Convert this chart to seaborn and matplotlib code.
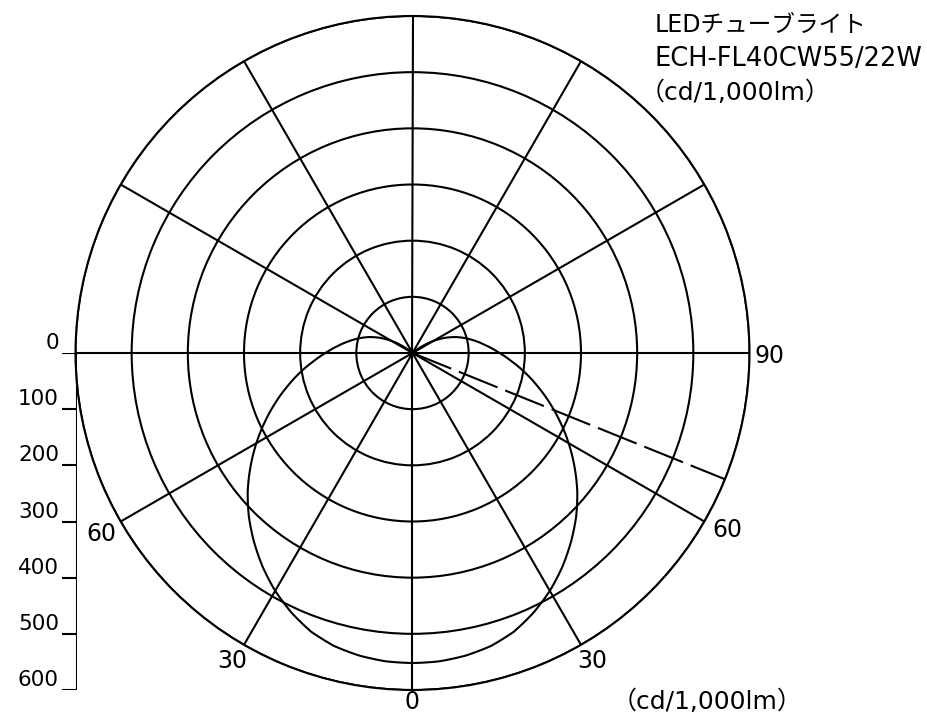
import numpy as np
import matplotlib
matplotlib.use("Agg")
import matplotlib.pyplot as plt
import seaborn as sns

# light distribution, angle from nadir (deg) -> cd/1000lm (symmetric)
half_angles = [0, 5, 10, 15, 20, 25, 30, 35, 40, 45, 50, 55, 60, 65,
               70, 75, 80, 85, 90, 95, 100, 105, 110, 115, 120, 125, 130]
half_cd = [552, 551, 547, 540, 528, 510, 489, 465, 439, 412, 383, 352, 321, 290,
           260, 231, 204, 178, 155, 135, 117, 100, 83, 64, 43, 21, 0]
angles = [-a for a in half_angles[::-1]] + half_angles[1:]
candela = half_cd[::-1] + half_cd[1:]

dash_angle = 68
dash_r = [0, 600]

rings = [100, 200, 300, 400, 500, 600]
spokes = list(range(0, 360, 30))
scale_ticks = [0, 100, 200, 300, 400, 500, 600]

angle_labels = ["0", "30", "30", "60", "60", "90"]
angle_pos = [0, 30.3, -30.3, 60.7, -59.8, 89.5]
angle_rad = [622, 635, 635, 643, 640, 635]

title_lines = ["LEDチューブライト", "ECH-FL40CW55/22W", "（cd/1,000lm）"]
unit_label = "（cd/1,000lm）"

sns.set_style("white")
plt.rcParams["font.family"] = ["DejaVu Sans", "Noto Sans CJK JP"]
plt.rcParams["text.color"] = "black"

fig = plt.figure(figsize=(9.28, 7.17), dpi=100)
W, H = 928, 717
cx, cy, R = 412.5, 353, 337

ax = fig.add_axes([(cx - R) / W, (H - cy - R) / H, 2 * R / W, 2 * R / H], projection="polar")
ax.set_theta_zero_location("S")
ax.set_ylim(0, 600)
ax.set_yticks(rings)
ax.set_yticklabels([])
ax.set_xticks(np.deg2rad(spokes))
ax.set_xticklabels([])
ax.tick_params(length=0)
ax.grid(True, color="black", linewidth=1.5)
ax.spines["polar"].set_color("black")
ax.spines["polar"].set_linewidth(1.5)

sns.lineplot(x=np.deg2rad(angles), y=candela, ax=ax, sort=False, estimator=None,
             color="black", linewidth=1.5)
# draw the curve as arcs between the measured points, like the polar grid
ax.lines[-1].get_path()._interpolation_steps = 20
sns.lineplot(x=np.deg2rad([dash_angle, dash_angle]), y=dash_r, ax=ax, sort=False,
             estimator=None, color="black", linewidth=1.5, linestyle=(0, (20, 4)))

for lab, a, r in zip(angle_labels, angle_pos, angle_rad):
    ax.text(np.deg2rad(a), r, lab, ha="center", va="center", fontsize=17, clip_on=False)

# scale bar on the left
ax2 = fig.add_axes([62 / W, (H - cy - R) / H, 15 / W, R / H])
ax2.set_xlim(0, 1)
ax2.set_ylim(600, 0)
ax2.axis("off")
ax2.vlines(1, 0, 600, color="black", linewidth=1.5)
ax2.hlines(scale_ticks, 0, 1, color="black", linewidth=1.5)
for t in scale_ticks:
    ax2.text(-0.2, t, str(t), ha="right", va="bottom", fontsize=15.5)

fig.text(655 / W, 1 - 25 / H, title_lines[0], ha="left", va="center", fontsize=17)
fig.text(655 / W, 1 - 59 / H, title_lines[1], ha="left", va="center", fontsize=18.5)
fig.text(640 / W, 1 - 93 / H, title_lines[2], ha="left", va="center", fontsize=18)
fig.text(707 / W, 1 - 702 / H, unit_label, ha="center", va="center", fontsize=18)

fig.savefig("out.png", dpi=100)
